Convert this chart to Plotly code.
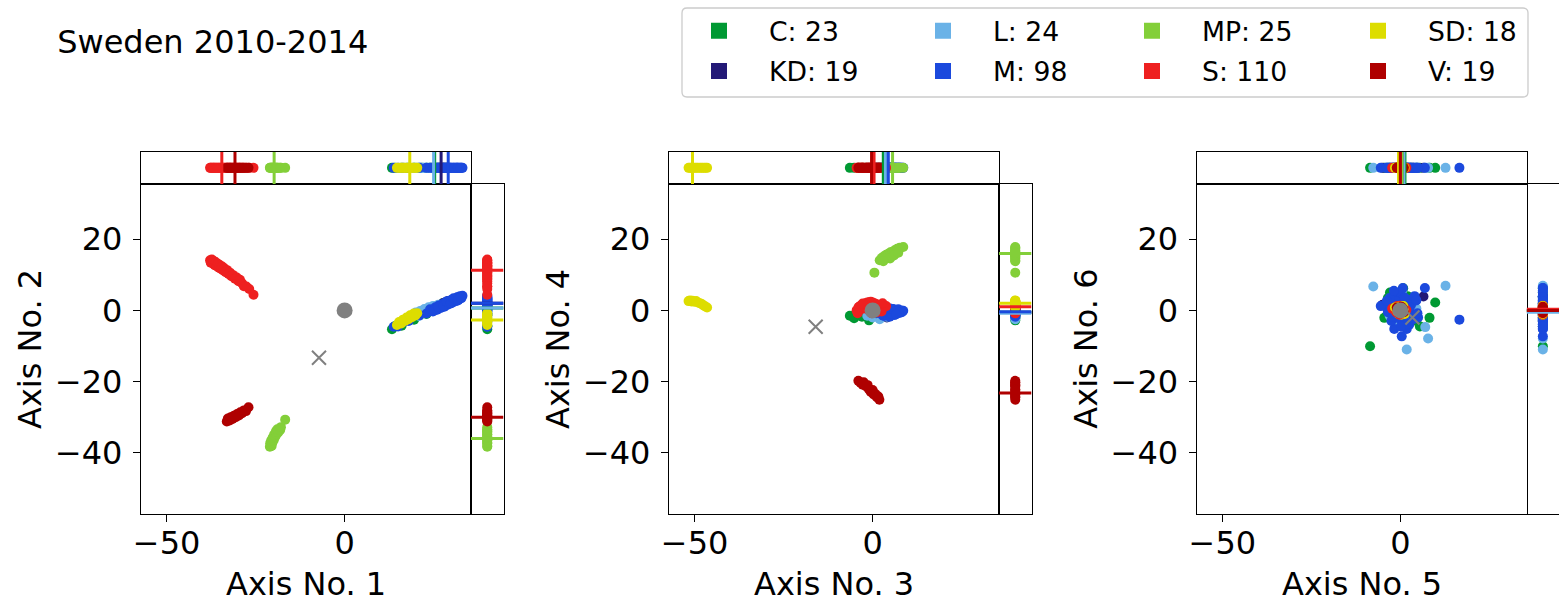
import plotly.graph_objects as go

# ---------------- data ----------------
PARTIES = ["C", "KD", "L", "M", "MP", "S", "SD", "V"]
COUNTS = [23, 19, 24, 98, 25, 110, 18, 19]
COLORS = ["#009933", "#231977", "#6AB2E7", "#1B49DD", "#83CF39", "#EE2020", "#DDDD00", "#AF0000"]
DRAW_ORDER = ["C", "KD", "L", "M", "MP", "S", "SD", "V"]
AXIS_LABELS = ["Axis No. 1", "Axis No. 2", "Axis No. 3", "Axis No. 4", "Axis No. 5", "Axis No. 6"]
TITLE = "Sweden 2010-2014"
X_TICKS = [-50, 0]
Y_TICKS = [-40, -20, 0, 20]
AX_RANGE = [-57.2, 35.5]

S_1 = [-37.8, -37.6, -37.3, -37.0, -36.8, -36.5, -36.2, -35.9, -35.6, -35.3, -35.0, -34.7, -34.4, -34.1, -33.8,
       -33.4, -33.0, -32.6, -32.2, -31.8, -31.3, -30.8, -30.3, -29.8, -29.4, -28.8, -28.3, -27.6, -26.8, -25.6]
S_2 = [14.1, 13.4, 14.3, 13.2, 13.9, 12.7, 13.5, 12.4, 13.1, 12.0, 12.7, 11.6, 12.3, 11.2, 11.8,
       10.7, 11.3, 10.2, 10.6, 9.6, 9.9, 8.9, 9.2, 8.2, 8.6, 7.6, 6.8, 6.7, 6.0, 4.4]
S_3 = [-4.5, -4.0, -3.5, -3.0, -2.5, -2.0, -1.5, -1.0, -0.5, 0.0, 0.5, 1.0, 1.5, 2.0, -3.2,
       -1.8, 0.2, 1.2, 2.5, -0.8, -3.8, -2.8, -1.2, 0.8, 1.8, 3.0, 3.8, -4.2, -0.3, 2.8]
S_4 = [0.0, 0.8, 1.2, 1.5, 1.8, 2.0, 2.2, 2.3, 2.4, 2.2, 2.0, 1.8, 1.2, 0.6, 0.3,
       0.5, 0.4, -0.5, -0.3, 1.0, 1.0, 1.9, 0.2, 1.4, 1.5, 0.8, 1.2, -0.8, -0.8, 2.0]
S_5 = [-1.5, -1.1, -0.6, -0.3, 0.0, 0.3, 0.6, 0.9, 1.3, -0.9, 0.5, -0.2, 0.2, 1.1, -1.2,
       0.0, -0.5, 0.7, 1.7, -0.1, -0.7, 0.4, 1.2, -2.3, 0.8, -0.4, 0.2, -1.1, 1.4, 0.5]
S_6 = [0.3, -0.6, 0.9, -0.3, 0.6, 0.0, -0.9, 0.5, -0.1, 1.2, 1.1, -1.2, -0.5, 0.7, -0.2,
       0.2, 0.4, -0.7, 0.1, 1.3, -0.4, 0.8, -0.6, 0.5, -1.1, 1.0, -0.1, 0.2, -0.2, -0.8]

M_1 = [13.8, 15.0, 16.5, 18.0, 21.0, 23.0, 24.0, 24.8, 25.5, 26.0, 26.5, 27.0, 27.5, 28.0, 28.4,
       28.8, 29.2, 29.6, 30.0, 30.4, 30.8, 31.2, 31.6, 32.0, 32.4, 32.8, 33.1, 27.2, 29.4, 31.4,
       25.2, 26.2, 27.8, 28.6, 29.8, 30.6, 31.8, 32.6]
M_2 = [-4.6, -4.5, -3.3, -3.0, -1.4, -0.9, 0.3, -0.3, 0.9, 0.2, 1.4, 0.7, 1.8, 1.0, 2.2,
       1.5, 2.6, 1.9, 3.0, 2.2, 3.2, 2.6, 3.7, 3.0, 4.0, 3.4, 4.1, 1.3, 2.3, 3.1,
       0.0, 1.0, 1.2, 2.5, 2.0, 3.4, 2.8, 3.7]
M_3 = [1.5, 2.5, 3.0, 3.5, 4.0, 4.5, 5.0, 5.5, 6.0, 6.5, 7.0, 7.5, 8.0, 8.6, 3.2,
       4.8, 5.8, 2.0, 6.8, 4.2, 5.2, 7.8, 2.8, 3.8, 6.2, 7.2, 4.6, 5.6, 1.0, 8.2,
       3.4, 4.4, 5.4, 6.4, 7.4, 2.6, 4.9, 6.6]
M_4 = [-0.3, 0.2, -1.0, 0.5, -0.5, 0.0, -1.2, 0.3, -0.8, 0.1, -0.4, -0.2, 0.0, -0.1, -1.6,
       -1.8, 0.4, -0.6, -0.9, 0.6, -0.3, -0.6, -1.4, 0.0, -1.3, 0.3, -0.9, -0.1, -0.8, -0.5,
       -0.4, 0.1, -1.0, -0.2, -0.7, -0.9, 0.5, -1.1]
M_5 = [6.9, 0.7, 16.6, 0.4, -1.7, 1.8, -3.0, -2.0, 2.0, 3.0, -4.0, 4.0, 1.0, -1.0, 3.0,
       -2.5, 5.0, -3.5, 0.0, 2.5, -1.2, 1.5, -5.5, 4.5, -0.5, 2.2, -3.0, 0.8, 3.6, -1.8,
       -2.2, 1.2, 3.8, -3.8, 0.2, 2.6, -1.0, 4.8]
M_6 = [6.3, 6.3, -2.6, -7.3, -5.2, -5.2, 2.0, -1.0, 3.0, -1.0, 1.0, 4.0, -3.0, 4.0, 1.5,
       -3.0, -2.0, -0.5, 5.0, -4.0, 2.5, 0.5, 1.2, 2.8, -2.2, -3.8, 3.5, 1.8, -2.5, 5.5,
       -1.8, 3.6, -1.4, 2.6, -4.5, 0.8, 1.0, -0.8]

L_1 = [19.4, 20.0, 20.6, 21.2, 21.8, 22.4, 23.0, 23.6, 24.2, 24.8, 25.5, 26.3, 22.0, 20.9]
L_2 = [-1.4, -0.6, -1.3, -0.2, -0.8, 0.4, -0.3, 0.9, 0.2, 1.2, 0.6, 1.6, 0.0, -1.6]
L_3 = [-1.5, 0.0, 1.5, 2.5, 3.5, 4.5, 5.5, 3.0, 1.0, 6.0, 2.0, 4.0, 0.5, 5.0]
L_4 = [-1.5, -2.0, -1.5, -0.5, -1.0, -0.3, -0.6, 0.3, -0.8, 0.0, -2.5, -1.8, -1.2, -1.4]
L_5 = [-7.6, 12.7, 7.0, 7.8, 1.8, -2.0, 1.0, 3.0, -1.0, 0.5, -3.0, 2.5, 4.5, -0.5]
L_6 = [6.7, 6.9, -4.7, -7.9, -11.0, 3.0, -2.0, 2.0, -4.0, 5.5, -1.5, -3.0, 0.5, 1.0]

C_1 = [13.3, 14.2, 16.0, 17.5, 19.5, 21.5, 23.0, 24.0, 25.0, 26.0, 26.8, 27.6, 28.5]
C_2 = [-5.3, -4.4, -4.3, -2.8, -2.6, -1.0, -1.0, 0.4, 0.2, 1.3, 0.9, 2.0, 1.7]
C_3 = [-5.2, -6.4, -4.0, -2.0, 0.0, 1.5, 3.0, 4.5, 2.0, -1.0, 5.0, 0.8, -3.0]
C_4 = [-2.2, -1.5, -1.0, -0.5, -1.5, -1.0, -0.5, 0.0, -2.0, -2.8, -1.2, 0.2, -1.8]
C_5 = [-2.9, 9.8, 8.2, -4.5, -8.5, 0.8, 3.0, -1.0, 2.0, 4.5, -3.5, 1.0, 5.5]
C_6 = [5.0, 2.2, -2.1, -2.1, -10.1, 6.2, -0.5, 1.0, 4.0, -3.0, 3.5, -1.5, -4.5]

KD_1 = [24.5, 25.5, 26.3, 27.0, 27.6, 28.2, 29.0, 26.8, 27.9, 28.8]
KD_2 = [0.5, 0.9, 1.3, 1.6, 2.0, 2.2, 2.6, 1.2, 1.8, 2.3]
KD_3 = [3.7, 3.0, 4.0, 4.8, 2.5, 5.2, 3.5, 4.3, 2.2, 5.5]
KD_4 = [-0.7, -1.5, -2.0, -0.8, -0.3, -1.3, 0.0, -1.0, -1.6, -0.4]
KD_5 = [6.5, -5.0, -1.0, 0.5, 2.0, -1.5, 1.0, 3.5, -0.5, 1.5]
KD_6 = [3.9, 1.6, -3.0, -3.2, -1.0, 1.5, -4.5, 0.5, 2.0, 0.5]

MP_1 = [-21.0, -20.5, -20.9, -20.3, -20.6, -19.9, -20.2, -19.5, -19.8, -19.1, -19.3, -18.6, -18.9, -18.1, -17.9, -16.7]
MP_2 = [-38.3, -38.1, -37.3, -37.2, -36.5, -36.4, -35.7, -35.5, -34.9, -34.8, -34.0, -34.2, -33.4, -33.6, -32.8, -30.7]
MP_3 = [0.5, 2.0, 2.6, 3.2, 3.8, 4.4, 5.0, 5.6, 6.2, 6.9, 7.6, 8.6, 4.9, 3.0, 6.0, 7.2]
MP_4 = [10.6, 14.1, 14.8, 15.2, 15.6, 15.9, 16.3, 16.5, 16.9, 17.3, 17.6, 17.8, 14.6, 13.8, 15.4, 16.2]
MP_5 = [-1.0, 0.5, 1.0, -0.5, 0.0, 1.5, -1.2, 0.8, 0.2, -0.3, 1.2, 0.6, -0.8, 0.3, -0.6, 1.0]
MP_6 = [1.0, -0.5, 0.8, -1.0, 0.3, 0.0, -0.3, 1.2, -1.3, 0.5, -0.8, 0.2, 0.6, -0.2, 0.9, -0.6]

SD_1 = [14.7, 15.3, 15.9, 16.4, 16.9, 17.4, 17.9, 18.4, 18.9, 19.4, 19.9, 20.4]
SD_2 = [-4.1, -3.3, -3.7, -2.6, -3.0, -2.0, -2.5, -1.4, -1.9, -0.9, -1.4, -0.8]
SD_3 = [-51.7, -51.3, -50.9, -50.6, -50.1, -49.6, -49.1, -48.5, -48.0, -47.5, -47.0, -46.5]
SD_4 = [2.6, 2.8, 2.5, 2.7, 2.4, 2.6, 2.2, 2.0, 1.8, 1.4, 1.1, 0.8]
SD_5 = [-1.0, 0.5, -0.5, 1.0, 0.0, -1.5, 1.2, -0.3, 0.8, -0.8, 0.4, -0.2]
SD_6 = [0.5, -0.8, 1.0, 0.0, -0.5, 0.8, -1.0, 0.3, 1.2, -0.3, -0.6, 0.2]

V_1 = [-33.1, -32.8, -32.3, -32.0, -31.5, -31.1, -30.6, -30.2, -29.7, -29.3, -28.8, -28.3, -27.7, -27.0]
V_2 = [-31.2, -30.4, -30.9, -30.0, -30.5, -29.6, -30.0, -29.1, -29.5, -28.6, -28.9, -28.1, -28.3, -27.2]
V_3 = [-4.0, -3.4, -2.8, -2.5, -1.8, -1.4, -1.0, -0.5, 0.0, 0.3, 0.8, 1.2, 1.6, 1.9]
V_4 = [-19.8, -20.3, -20.9, -20.2, -21.4, -21.0, -22.2, -22.9, -22.4, -23.6, -23.5, -24.4, -24.2, -25.1]
V_5 = [0.0, -0.5, 0.5, -1.0, 1.0, 0.3, -0.3, 0.8, -0.8, 0.2, -0.2, 0.6, -0.6, 0.1]
V_6 = [0.0, 0.3, -0.3, 0.8, -0.5, 1.0, -0.8, 0.5, 0.2, -0.2, 0.6, -0.6, 0.4, -0.1]

# party centres shown as lines in the marginal strips (order of PARTIES)
CENTRE_1 = [25.3, 27.1, 25.0, 29.1, -19.8, -34.5, 18.3, -30.8]
CENTRE_2 = [0.7, 2.0, 0.7, 2.0, -36.0, 11.3, -2.7, -30.0]
CENTRE_3 = [3.0, 4.2, 3.6, 4.4, 5.6, 0.4, -50.6, -0.3]
CENTRE_4 = [-0.5, -0.6, -0.8, -0.4, 16.0, 1.0, 2.0, -23.2]
CENTRE_5 = [1.3, 0.5, 1.0, 0.5, 0.5, 0.0, -0.5, 0.0]
CENTRE_6 = [-0.2, -0.3, -0.5, 0.2, 0.0, 0.3, 0.0, 0.0]

ORIGIN_X = [0.0, 0.0, 0.0]
ORIGIN_Y = [0.0, 0.0, 0.0]
CROSS_X = [-7.2, -16.0, 3.4]
CROSS_Y = [-13.3, -4.6, -2.0]

# ---------------- assembly ----------------
POINTS = {
    "S": [S_1, S_2, S_3, S_4, S_5, S_6],
    "M": [M_1, M_2, M_3, M_4, M_5, M_6],
    "L": [L_1, L_2, L_3, L_4, L_5, L_6],
    "C": [C_1, C_2, C_3, C_4, C_5, C_6],
    "KD": [KD_1, KD_2, KD_3, KD_4, KD_5, KD_6],
    "MP": [MP_1, MP_2, MP_3, MP_4, MP_5, MP_6],
    "SD": [SD_1, SD_2, SD_3, SD_4, SD_5, SD_6],
    "V": [V_1, V_2, V_3, V_4, V_5, V_6],
}
CENTRES = [CENTRE_1, CENTRE_2, CENTRE_3, CENTRE_4, CENTRE_5, CENTRE_6]
COLOR = dict(zip(PARTIES, COLORS))

W, H = 1559, 603
FONT = "DejaVu Sans"
GRAY = "#808080"


def fx(p):
    return p / W


def fy(p):
    return 1 - p / H


STRIP_TOP, MAIN_TOP, MAIN_BOT = 151.7, 184.0, 514.0
PANEL_LEFT = [141.0, 669.0, 1196.7]
MAIN_W = 330.0
STRIP_W = 32.5
MS = 10

fig = go.Figure()
layout = {}


def ax_ids(k):
    return ("x" if k == 1 else f"x{k}"), ("y" if k == 1 else f"y{k}")


def ax_keys(k):
    return ("xaxis" if k == 1 else f"xaxis{k}"), ("yaxis" if k == 1 else f"yaxis{k}")


line_style = dict(showline=True, linecolor="black", linewidth=1.3, showgrid=False, zeroline=False)
tick_font = dict(family=FONT, size=32, color="black")

for i in range(3):
    km, kt, kr = 3 * i + 1, 3 * i + 2, 3 * i + 3
    L0 = PANEL_LEFT[i]
    R0 = L0 + MAIN_W
    R1 = min(R0 + STRIP_W, W)
    xm, ym = ax_ids(km)
    xt, yt = ax_ids(kt)
    xr, yr = ax_ids(kr)
    kxm, kym = ax_keys(km)
    kxt, kyt = ax_keys(kt)
    kxr, kyr = ax_keys(kr)

    layout[kxm] = dict(domain=[fx(L0), fx(R0)], anchor=ym, range=AX_RANGE, mirror=True,
                       ticks="outside", ticklen=7, tickwidth=1.3, tickcolor="black",
                       ticklabelstandoff=-7,
                       tickvals=X_TICKS, tickfont=tick_font, **line_style)
    layout[kym] = dict(domain=[fy(MAIN_BOT), fy(MAIN_TOP)], anchor=xm, range=AX_RANGE, mirror=True,
                       ticks="outside", ticklen=7, tickwidth=1.3, tickcolor="black",
                       ticklabelstandoff=4,
                       tickvals=Y_TICKS, tickfont=tick_font, **line_style)
    layout[kxt] = dict(domain=[fx(L0), fx(R0)], anchor=yt, range=AX_RANGE, mirror=True,
                       showticklabels=False, ticks="", **line_style)
    layout[kyt] = dict(domain=[fy(MAIN_TOP), fy(STRIP_TOP)], anchor=xt, range=[-1, 1], mirror=True,
                       showticklabels=False, ticks="", **line_style)
    layout[kxr] = dict(domain=[fx(R0), fx(R1)], anchor=yr, range=[-1, 1], mirror=True,
                       showticklabels=False, ticks="", **line_style)
    yr_style = dict(line_style)
    if i == 2:
        yr_style["showline"] = False
    layout[kyr] = dict(domain=[fy(MAIN_BOT), fy(MAIN_TOP)], anchor=xr, range=AX_RANGE, mirror=True,
                       showticklabels=False, ticks="", **yr_style)

    a, b = 2 * i, 2 * i + 1
    # main scatter
    for p in DRAW_ORDER:
        xs, ys = POINTS[p][a], POINTS[p][b]
        fig.add_trace(go.Scatter(x=xs, y=ys, mode="markers", xaxis=xm, yaxis=ym, showlegend=False,
                                 marker=dict(color=COLOR[p], size=MS, line=dict(width=0)),
                                 hoverinfo="skip"))
    # top strip markers
    for p in DRAW_ORDER:
        xs = POINTS[p][a]
        fig.add_trace(go.Scatter(x=xs, y=[0] * len(xs), mode="markers", xaxis=xt, yaxis=yt,
                                 showlegend=False, hoverinfo="skip",
                                 marker=dict(color=COLOR[p], size=MS, line=dict(width=0))))
    # right strip markers
    for p in DRAW_ORDER:
        ys = POINTS[p][b]
        fig.add_trace(go.Scatter(x=[0] * len(ys), y=ys, mode="markers", xaxis=xr, yaxis=yr,
                                 showlegend=False, hoverinfo="skip",
                                 marker=dict(color=COLOR[p], size=MS, line=dict(width=0))))
    # centre lines in strips
    for p in DRAW_ORDER:
        j = PARTIES.index(p)
        m = CENTRES[a][j]
        fig.add_trace(go.Scatter(x=[m, m], y=[-1, 1], mode="lines", xaxis=xt, yaxis=yt,
                                 showlegend=False, hoverinfo="skip",
                                 line=dict(color=COLOR[p], width=3)))
        m = CENTRES[b][j]
        fig.add_trace(go.Scatter(x=[-1, 1], y=[m, m], mode="lines", xaxis=xr, yaxis=yr,
                                 showlegend=False, hoverinfo="skip",
                                 line=dict(color=COLOR[p], width=3)))
    # origin and cross
    fig.add_trace(go.Scatter(x=[ORIGIN_X[i]], y=[ORIGIN_Y[i]], mode="markers", xaxis=xm, yaxis=ym,
                             showlegend=False, hoverinfo="skip",
                             marker=dict(color=GRAY, size=16, line=dict(width=0))))
    fig.add_trace(go.Scatter(x=[CROSS_X[i]], y=[CROSS_Y[i]], mode="markers", xaxis=xm, yaxis=ym,
                             showlegend=False, hoverinfo="skip",
                             marker=dict(symbol="x-thin-open", color=GRAY, size=14,
                                         line=dict(width=2, color=GRAY))))

# axis labels
annotations = []
for i in range(3):
    L0 = PANEL_LEFT[i]
    annotations.append(dict(text=AXIS_LABELS[2 * i], xref="paper", yref="paper",
                            x=fx(L0 + MAIN_W / 2), y=fy(584), xanchor="center", yanchor="middle",
                            showarrow=False, font=dict(family=FONT, size=32, color="black")))
    annotations.append(dict(text=AXIS_LABELS[2 * i + 1], xref="paper", yref="paper",
                            x=fx(L0 - 111), y=fy((MAIN_TOP + MAIN_BOT) / 2), xanchor="center",
                            yanchor="middle", textangle=-90, showarrow=False,
                            font=dict(family=FONT, size=32, color="black")))

# legend: one legend box per entry, laid out as 4 columns x 2 rows
LEG_COL_SQ = [719, 943, 1152, 1378]
LEG_ROW_C = [30.7, 71.0]
ITEMW = 90
for idx, p in enumerate(PARTIES):
    col, row = idx // 2, idx % 2
    lname = "legend" if idx == 0 else f"legend{idx + 1}"
    fig.add_trace(go.Scatter(x=[None], y=[None], mode="markers", xaxis="x", yaxis="y",
                             name=f"{p}: {COUNTS[idx]}", legend=lname, showlegend=True,
                             marker=dict(symbol="square", size=16, color=COLOR[p], line=dict(width=0))))
    left = LEG_COL_SQ[col] - (ITEMW + 10) / 2
    top = LEG_ROW_C[row] - 23.83
    layout[lname] = dict(x=fx(left), y=fy(top), xanchor="left", yanchor="top",
                         bgcolor="rgba(0,0,0,0)", borderwidth=0, itemwidth=ITEMW,
                         font=dict(family=FONT, size=26.67, color="black"))

# legend frame (rounded)
x0, y0, x1, y1, r = 682, 8, 1528, 97, 5
path = (f"M {fx(x0 + r)},{fy(y0)} L {fx(x1 - r)},{fy(y0)} Q {fx(x1)},{fy(y0)} {fx(x1)},{fy(y0 + r)} "
        f"L {fx(x1)},{fy(y1 - r)} Q {fx(x1)},{fy(y1)} {fx(x1 - r)},{fy(y1)} "
        f"L {fx(x0 + r)},{fy(y1)} Q {fx(x0)},{fy(y1)} {fx(x0)},{fy(y1 - r)} "
        f"L {fx(x0)},{fy(y0 + r)} Q {fx(x0)},{fy(y0)} {fx(x0 + r)},{fy(y0)} Z")
shapes = [dict(type="path", path=path, xref="paper", yref="paper",
               line=dict(color="#cccccc", width=1.3), fillcolor="rgba(0,0,0,0)", layer="above")]

fig.update_layout(
    width=W, height=H, margin=dict(l=0, r=0, t=0, b=0, autoexpand=False),
    paper_bgcolor="white", plot_bgcolor="white",
    font=dict(family=FONT, color="black"),
    title=dict(text=TITLE, x=fx(57.2), xanchor="left", xref="paper",
               y=fy(41.7), yanchor="middle", yref="container",
               font=dict(family=FONT, size=32, color="black")),
    annotations=annotations, shapes=shapes,
    **layout,
)

fig.write_html("out.html")
